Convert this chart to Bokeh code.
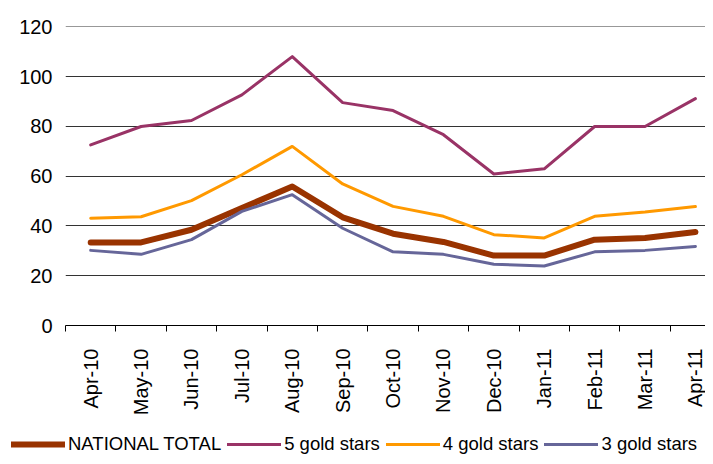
import math
from bokeh.plotting import figure
from bokeh.layouts import column
from bokeh.models import Range1d, FixedTicker, Legend, LegendItem
from bokeh.embed import file_html
from bokeh.resources import INLINE

months = ["Apr-10", "May-10", "Jun-10", "Jul-10", "Aug-10", "Sep-10", "Oct-10",
          "Nov-10", "Dec-10", "Jan-11", "Feb-11", "Mar-11", "Apr-11"]
national_total = [33.4, 33.4, 38.5, 47.2, 55.9, 43.5, 36.9, 33.6, 28.1, 28.1, 34.5, 35.2, 37.6]
gold5 = [72.6, 80.0, 82.4, 92.7, 108.1, 89.6, 86.4, 76.7, 60.9, 63.0, 80.0, 80.0, 91.2]
gold4 = [43.1, 43.7, 50.2, 60.6, 72.0, 56.9, 47.9, 43.9, 36.5, 35.2, 43.9, 45.6, 47.8]
gold3 = [30.2, 28.6, 34.5, 45.9, 52.6, 39.1, 29.6, 28.6, 24.6, 23.9, 29.6, 30.2, 31.8]
y_ticks = [0, 20, 40, 60, 80, 100, 120]
series_names = ["NATIONAL TOTAL", "5 gold stars", "4 gold stars", "3 gold stars"]

FONT = "Liberation Sans"
x = list(range(len(months)))

p = figure(width=705, height=434, output_backend="svg", toolbar_location=None,
           x_range=Range1d(-0.5, 12.2), y_range=Range1d(0, 120.2),
           min_border_left=65, min_border_top=26, min_border_right=0, min_border_bottom=109)
p.outline_line_color = None
p.background_fill_color = "white"
p.frame_align = False

styles = [("#993300", 6), ("#993366", 3), ("#FF9900", 3), ("#666699", 3)]
values = [national_total, gold5, gold4, gold3]
for vals, (col, w) in zip(values, styles):
    p.line(x, vals, line_color=col, line_width=w, line_cap="round", line_join="round")

# x axis
xa = p.xaxis[0]
xa.ticker = FixedTicker(ticks=x, minor_ticks=[i - 0.5 for i in range(len(months) + 1)])
xa.major_label_overrides = {i: m for i, m in enumerate(months)}
xa.major_label_orientation = math.pi / 2
xa.major_tick_out = 0
xa.major_tick_in = 0
xa.minor_tick_out = 6
xa.minor_tick_in = 0
xa.minor_tick_line_color = "black"
xa.axis_line_color = "black"
xa.axis_line_width = 1
xa.major_label_standoff = 17
xa.major_label_text_font = FONT
xa.major_label_text_font_size = "20px"
xa.major_label_text_color = "black"

# y axis
ya = p.yaxis[0]
ya.ticker = FixedTicker(ticks=y_ticks)
ya.axis_line_color = None
ya.major_tick_line_color = None
ya.minor_tick_line_color = None
ya.major_label_standoff = 7
ya.major_label_text_font = FONT
ya.major_label_text_font_size = "20px"
ya.major_label_text_color = "black"

p.xgrid.grid_line_color = None
p.ygrid.ticker = FixedTicker(ticks=[20, 40, 60, 80, 100, 120])
p.ygrid.grid_line_color = "#333333"
p.ygrid.grid_line_width = 1

# legend strip (series drawn out of view; only the legend shows)
lg = figure(width=705, height=22, output_backend="svg", toolbar_location=None,
            x_range=Range1d(100, 101), y_range=Range1d(1000, 1001),
            x_axis_location=None, y_axis_location=None,
            min_border_left=0, min_border_top=0, min_border_right=0, min_border_bottom=0)
lg.outline_line_color = None
lg.grid.visible = False
lg.frame_align = False
items = []
for name, vals, (col, w) in zip(series_names, values, styles):
    r = lg.line(x, vals, line_color=col, line_width=w, line_cap="round")
    items.append(LegendItem(label=name, renderers=[r]))
legend = Legend(items=items, orientation="horizontal", location=(11, 1),
                border_line_color=None, background_fill_alpha=0,
                padding=0, margin=0, spacing=6, glyph_width=54, glyph_height=20,
                label_standoff=3, label_text_font=FONT, label_text_font_size="18.5px",
                label_text_color="black", label_height=20)
lg.add_layout(legend, "center")

layout = column(p, lg, spacing=0)
open("out.html", "w").write(file_html(layout, INLINE))
